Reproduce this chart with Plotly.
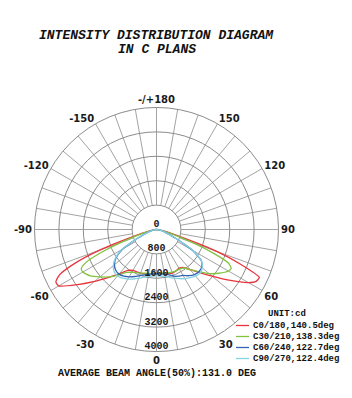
import plotly.graph_objects as go

# ---------------- data ----------------
GAMMA = [0, 5, 10, 15, 20, 25, 30, 35, 40, 45, 50, 55, 60, 62.5, 65, 67.5, 70, 75, 80, 85, 90]

red_c0    = [1440, 1445, 1460, 1490, 1520, 1500, 1470, 1520, 1720, 2000, 2380, 2900, 3480, 3680, 3720, 3000, 2100, 500, 200, 60, 0]
red_c180  = [1440, 1450, 1470, 1500, 1520, 1530, 1550, 1640, 1900, 2220, 2650, 3150, 3700, 3720, 3500, 2900, 2000, 500, 200, 60, 0]
green_c30  = [1440, 1445, 1455, 1470, 1490, 1500, 1500, 1540, 1720, 1950, 2250, 2500, 2720, 2760, 2600, 2000, 1300, 400, 150, 50, 0]
green_c210 = [1440, 1450, 1460, 1480, 1520, 1560, 1620, 1720, 1950, 2200, 2420, 2650, 2790, 2780, 2550, 1950, 1250, 400, 150, 50, 0]
blue_c60   = [1450, 1460, 1490, 1530, 1630, 1690, 1740, 1850, 1930, 1960, 1930, 1800, 1350, 980, 720, 520, 360, 220, 110, 40, 0]
blue_c240  = [1450, 1460, 1490, 1540, 1610, 1700, 1790, 1870, 1910, 1890, 1800, 1620, 1280, 950, 700, 500, 350, 210, 110, 40, 0]
cyan_c90   = [1520, 1530, 1560, 1620, 1700, 1780, 1860, 1930, 1990, 2020, 1960, 1800, 1380, 1000, 740, 530, 370, 230, 120, 40, 0]
cyan_c270  = [1520, 1530, 1560, 1620, 1700, 1790, 1880, 1950, 1990, 1960, 1850, 1650, 1320, 970, 720, 520, 360, 220, 115, 40, 0]

SERIES_NAMES = ["C0/180,140.5deg", "C30/210,138.3deg", "C60/240,122.7deg", "C90/270,122.4deg"]
SERIES_COLORS = ["#e8343c", "#82c341", "#3465b5", "#86d3e3"]

RADIAL_TICKS = [800, 1600, 2400, 3200, 4000]
RADIAL_LABELS = ["0", "800", "1600", "2400", "3200", "4000"]
ANGLE_LABELS = {0: "0", 30: "30", 60: "60", 90: "90", 120: "120", 150: "150",
                180: "-/+180", 210: "-150", 240: "-120", 270: "-90", 300: "-60", 330: "-30"}

TITLE_1 = "INTENSITY DISTRIBUTION DIAGRAM"
TITLE_2 = "IN C PLANS"
UNIT_TEXT = "UNIT:cd"
FOOTER = "AVERAGE BEAM ANGLE(50%):131.0 DEG"

# ---------------- figure ----------------
W, H = 352, 398
MONO = "Liberation Mono, Courier New, monospace"
SANS = "DejaVu Sans, Arial, sans-serif"

fig = go.Figure()

# spokes (every 10 deg, starting at the first ring)
sp_r, sp_t = [], []
for a in range(0, 360, 10):
    sp_r += [RADIAL_TICKS[0], RADIAL_TICKS[-1], None]
    sp_t += [a, a, None]
fig.add_trace(go.Scatterpolar(r=sp_r, theta=sp_t, mode="lines",
                              line=dict(color="#8c8c8c", width=0.8),
                              hoverinfo="skip", showlegend=False))

pairs = [(red_c0, red_c180), (green_c30, green_c210), (blue_c60, blue_c240), (cyan_c90, cyan_c270)]
for (right, left), name, col in zip(pairs, SERIES_NAMES, SERIES_COLORS):
    theta = [-g for g in reversed(GAMMA)] + GAMMA[1:]
    r = list(reversed(left)) + right[1:]
    fig.add_trace(go.Scatterpolar(r=r, theta=theta, mode="lines", name=name,
                                  line=dict(color=col, width=1.3, shape="spline", smoothing=0.6),
                                  showlegend=False))

# radial labels along the 0 direction
fig.add_trace(go.Scatterpolar(r=[0] + RADIAL_TICKS, theta=[0] * 6, mode="text",
                              text=RADIAL_LABELS, textposition="top center",
                              textfont=dict(family=MONO, size=10, color="#1a1a1a", weight="bold"),
                              hoverinfo="skip", showlegend=False))

tickvals = list(range(0, 360, 10))
ticktext = [ANGLE_LABELS.get(v, "") for v in tickvals]

cx0, cx1 = 34.5 / W, 278.5 / W
cy0, cy1 = 1 - 351.5 / H, 1 - 107.5 / H

fig.update_layout(
    width=W, height=H,
    margin=dict(l=0, r=0, t=0, b=0),
    paper_bgcolor="white",
    plot_bgcolor="white",
    showlegend=False,
    polar=dict(
        domain=dict(x=[cx0, cx1], y=[cy0, cy1]),
        bgcolor="white",
        angularaxis=dict(rotation=270, direction="counterclockwise",
                         tickmode="array", tickvals=tickvals, ticktext=ticktext,
                         showgrid=False, ticks="", showline=True,
                         linecolor="#8c8c8c", linewidth=1,
                         tickfont=dict(family=SANS, size=10, color="#1a1a1a", weight="bold")),
        radialaxis=dict(range=[0, 4000], tickmode="array", tickvals=RADIAL_TICKS,
                        showticklabels=False, ticks="", showline=False,
                        gridcolor="#8c8c8c", gridwidth=0.8),
    ),
)

def px(x):
    return x / W

def py(y):
    return 1 - y / H

ann = []
ann.append(dict(x=px(156.5), y=py(35), text="<b><i>" + TITLE_1 + "</i></b>", showarrow=False,
                xref="paper", yref="paper", xanchor="center", yanchor="middle",
                font=dict(family=MONO, size=13, color="#111")))
ann.append(dict(x=px(156.5), y=py(49), text="<b><i>" + TITLE_2 + "</i></b>", showarrow=False,
                xref="paper", yref="paper", xanchor="center", yanchor="middle",
                font=dict(family=MONO, size=13, color="#111")))
ann.append(dict(x=px(156.5), y=py(373), text="<b>" + FOOTER + "</b>", showarrow=False,
                xref="paper", yref="paper", xanchor="center", yanchor="middle",
                font=dict(family=MONO, size=10, color="#111")))
ann.append(dict(x=px(266), y=py(314), text="<b>" + UNIT_TEXT + "</b>", showarrow=False,
                xref="paper", yref="paper", xanchor="left", yanchor="middle",
                font=dict(family=MONO, size=9, color="#111")))

shapes = []
row_y = [325.5, 336.5, 347.5, 358.5]
for yy, name, col in zip(row_y, SERIES_NAMES, SERIES_COLORS):
    shapes.append(dict(type="line", xref="paper", yref="paper",
                       x0=px(236), x1=px(249), y0=py(yy), y1=py(yy),
                       line=dict(color=col, width=1.3)))
    ann.append(dict(x=px(251), y=py(yy), text="<b>" + name + "</b>", showarrow=False,
                    xref="paper", yref="paper", xanchor="left", yanchor="middle",
                    font=dict(family=MONO, size=9, color="#111")))

fig.update_layout(annotations=ann, shapes=shapes)
fig.write_html("out.html")
